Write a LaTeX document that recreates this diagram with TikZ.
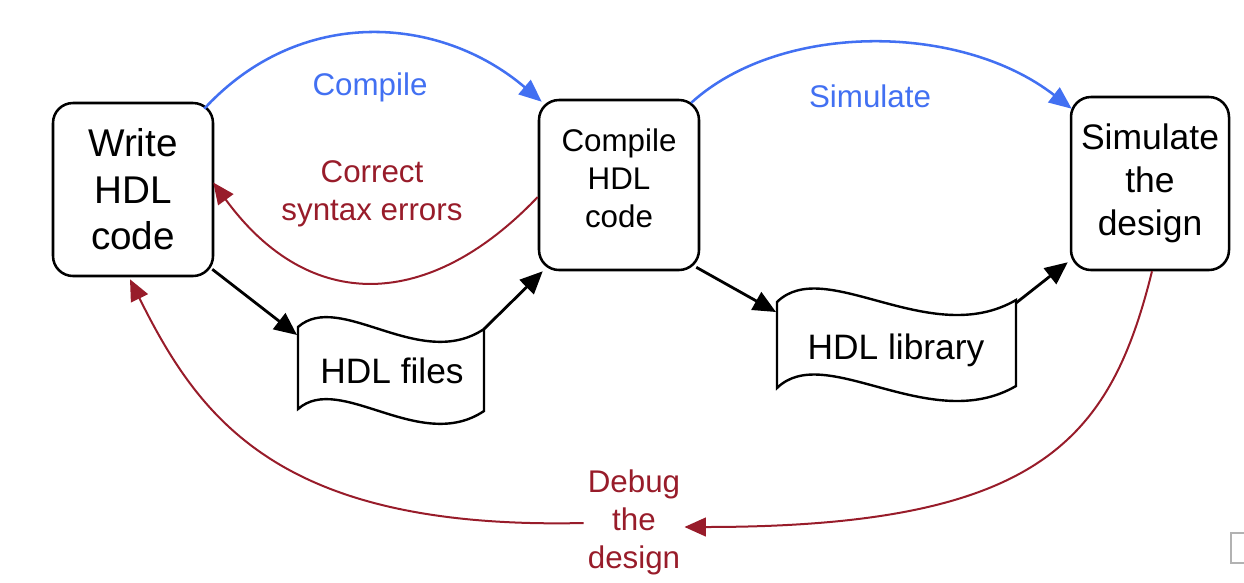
\documentclass[tikz,border=0pt]{standalone}
\usepackage{fontspec}
\setmainfont{Liberation Sans}
\usetikzlibrary{arrows.meta,calc}
\definecolor{cblue}{RGB}{66,112,242}
\definecolor{cred}{RGB}{152,28,42}
\tikzset{
  procbox/.style={draw=black,line width=1.9pt,rounded corners=15pt,align=center,inner sep=0pt},
  doctext/.style={inner sep=0pt,font=\fontsize{26.5}{32}\selectfont},
  docline/.style={draw=black,line width=1.8pt},
  lbl/.style={align=center,inner sep=3pt,font=\fontsize{23.5}{28.5}\selectfont},
  blk/.style={line width=2.1pt,-{Triangle[length=17pt,width=15pt]}},
  bluearr/.style={cblue,line width=1.9pt,-{Triangle[length=17pt,width=14pt]}},
  redarr/.style={cred,line width=1.5pt,-{Triangle[length=16pt,width=14pt]}},
}
\begin{document}
\begin{tikzpicture}[x=0.75pt,y=-0.75pt]
\useasboundingbox (0,0) rectangle (1244,582);
% process boxes
\node[procbox,minimum width=120pt,minimum height=129.75pt,font=\fontsize{29}{35}\selectfont] (write) at (133,189.5) {Write\\HDL\\code};
\node[procbox,minimum width=120pt,minimum height=127.5pt,font=\fontsize{23.5}{28.5}\selectfont] (compile) at (619,185) {Compile\\HDL\\code\rule[-10.5pt]{0pt}{0pt}};
\node[procbox,minimum width=118.5pt,minimum height=129.75pt,font=\fontsize{26.6}{32.3}\selectfont] (simulate) at (1150,183.5) {Simulate\\the\\design};
% document shapes
\node[doctext] (files) at (392,371) {HDL files};
\coordinate (files-tl) at (298,327);
\coordinate (files-tr) at (484,329);
\coordinate (files-bl) at (298,409);
\coordinate (files-br) at (484,411);
\path[docline] (files-tl) .. controls (340,290) and (420,372) .. (files-tr) -- (files-br)
  .. controls (420,454) and (340,372) .. (files-bl) -- cycle;
\node[doctext] (library) at (896,350) {HDL library};
\coordinate (lib-tl) at (777,302);
\coordinate (lib-tr) at (1016,300);
\coordinate (lib-bl) at (777,388);
\coordinate (lib-br) at (1016,386);
\path[docline] (lib-tl) .. controls (825,255) and (930,350) .. (lib-tr) -- (lib-br)
  .. controls (930,436) and (825,341) .. (lib-bl) -- cycle;
% labels
\node[lbl,text=cblue] (lcompile) at (370,87) {Compile};
\node[lbl,text=cblue] (lsimulate) at (870,96) {Simulate};
\node[lbl,text=cred] (lcorrect) at (372,194) {Correct\\syntax errors};
\node[lbl,text=cred] (ldebug) at (634,522) {Debug\\the\\design};
% blue arrows
\draw[bluearr] ([shift={(-10,7)}]write.north east) .. controls (300,5) and (440,15) .. ([shift={(4,3)}]compile.north west);
\draw[bluearr] ([shift={(-9,4)}]compile.north east) .. controls (780,22) and (960,22) .. ([shift={(2,13)}]simulate.north west);
% red arrows
\draw[redarr] ([shift={(0,12)}]compile.west) .. controls (430,310) and (310,315) .. ([shift={(-1,-7)}]write.east);
\draw[redarr] ([shift={(2,0)}]simulate.south) .. controls (1110,440) and (1040,527) .. ([shift={(0,5)}]ldebug.east);
\draw[redarr] ([shift={(0,1)}]ldebug.west) .. controls (280,530) and (200,420) .. ([shift={(-3,2)}]write.south);
% black arrows
\draw[blk] ([shift={(-2,-8)}]write.south east) -- ([shift={(-1,8)}]files-tl);
\draw[blk] (files-tr) -- ([shift={(5,0)}]compile.south west);
\draw[blk] ([shift={(-4,-4)}]compile.south east) -- ([shift={(-1,10)}]lib-tl);
\draw[blk] ([shift={(0,3)}]lib-tr) -- ([shift={(-2,-9)}]simulate.south west);
% small grey frame at the lower right edge
\draw[gray!60,line width=1pt] (1244,533) -- (1231,533) -- (1231,563) -- (1244,563);
\end{tikzpicture}
\end{document}
